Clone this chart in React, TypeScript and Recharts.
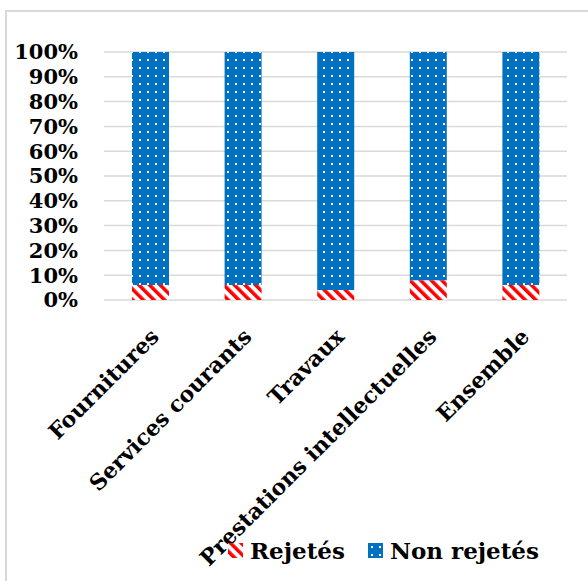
import { BarChart, Bar, XAxis, YAxis, CartesianGrid, Legend } from "recharts";

const categories = ["Fournitures", "Services courants", "Travaux", "Prestations intellectuelles", "Ensemble"];
const rejetes = [6, 6, 4, 8, 6];
const nonRejetes = [94, 94, 96, 92, 94];
const yTicks = [0, 10, 20, 30, 40, 50, 60, 70, 80, 90, 100];

const data = categories.map((name, i) => ({
  name,
  rejetes: rejetes[i],
  nonRejetes: nonRejetes[i]
}));

const FONT = "'DejaVu Serif', serif";
const BLUE = "#0070C0";
const FRAME = "#d9d9d9";

function Patterns({ prefix }: { prefix: string }) {
  return (
    <defs>
      <pattern id={`${prefix}-stripes`} patternUnits="userSpaceOnUse" width={7.5} height={7.5} patternTransform="rotate(-45)">
        <rect width={7.5} height={7.5} fill="#fff" />
        <rect width={3.5} height={7.5} fill="#ff0000" />
      </pattern>
      <pattern id={`${prefix}-dots`} patternUnits="userSpaceOnUse" width={8} height={8}>
        <rect width={8} height={8} fill={BLUE} />
        <rect x={3} y={3} width={2} height={2} fill="#fff" />
      </pattern>
    </defs>
  );
}

function CategoryTick({ x, y, payload }: any) {
  const ax = x + 10;
  const ay = y + 30;
  return (
    <text
      x={ax}
      y={ay}
      transform={`rotate(-45, ${ax}, ${ay})`}
      textAnchor="end"
      fontFamily={FONT}
      fontWeight="bold"
      fontSize={22}
      fill="#000"
    >
      {payload.value}
    </text>
  );
}

function LegendContent() {
  const items = [
    { label: "Rejetés", fill: "url(#lg-stripes)" },
    { label: "Non rejetés", fill: "url(#lg-dots)" }
  ];
  return (
    <div style={{ display: "flex", alignItems: "center", height: 30, paddingLeft: 228 }}>
      <svg width={0} height={0} style={{ position: "absolute" }}>
        <Patterns prefix="lg" />
      </svg>
      {items.map((it) => (
        <div key={it.label} style={{ display: "flex", alignItems: "center", marginRight: 23 }}>
          <svg width={15} height={15} style={{ marginRight: 7 }}>
            <rect width={15} height={15} fill={it.fill} />
          </svg>
          <span style={{ fontFamily: FONT, fontWeight: "bold", fontSize: 23, color: "#000" }}>{it.label}</span>
        </div>
      ))}
    </div>
  );
}

export default function App() {
  return (
    <div style={{ position: "absolute", left: 0, top: 0, width: 588, height: 581, overflow: "hidden", background: "#fff" }}>
      <div style={{ position: "absolute", left: 5, top: 10, width: 2, height: 571, background: FRAME }} />
      <div style={{ position: "absolute", left: 5, top: 10, width: 583, height: 2, background: FRAME }} />
      <svg width={0} height={0} style={{ position: "absolute" }}>
        <Patterns prefix="ch" />
      </svg>
      <div style={{ position: "absolute", left: 0, top: 0 }}>
        <BarChart
          width={588}
          height={581}
          data={data}
          margin={{ top: 52, right: 21, left: 0, bottom: 16 }}
          barSize={37}
        >
          <CartesianGrid horizontal vertical={false} stroke="#d9d9d9" strokeWidth={1.5} />
          <XAxis
            dataKey="name"
            axisLine={false}
            tickLine={false}
            interval={0}
            height={235}
            tick={<CategoryTick />}
          />
          <YAxis
            width={104}
            domain={[0, 100]}
            ticks={yTicks}
            interval={0}
            axisLine={false}
            tickLine={false}
            tickMargin={20}
            tickFormatter={(v) => `${v}%`}
            tick={{ fontFamily: FONT, fontWeight: "bold", fontSize: 21, fill: "#000" }}
          />
          <Legend
            verticalAlign="bottom"
            height={30}
            width={588}
            wrapperStyle={{ left: 0 }}
            content={<LegendContent />}
          />
          <Bar dataKey="rejetes" name="Rejetés" stackId="a" fill="url(#ch-stripes)" isAnimationActive={false} />
          <Bar dataKey="nonRejetes" name="Non rejetés" stackId="a" fill="url(#ch-dots)" isAnimationActive={false} />
        </BarChart>
      </div>
    </div>
  );
}
